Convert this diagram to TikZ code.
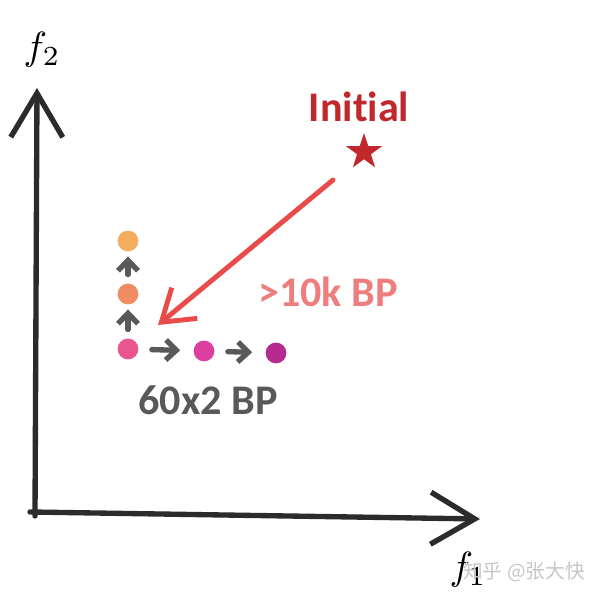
\documentclass[tikz,border=0pt]{standalone}
\usepackage{fontspec}
\newfontfamily\labelfont[Ligatures=NoCommon]{Carlito}
\newfontfamily\cjk{Noto Sans CJK SC}
\usepackage{tikz}
\usetikzlibrary{arrows.meta}
\usetikzlibrary{shapes.geometric}
\usepackage{xcolor}

\definecolor{axisgray}{HTML}{2B2B2B}
\definecolor{stepgray}{HTML}{595959}
\definecolor{initred}{HTML}{C0282B}
\definecolor{bpred}{HTML}{E94B4B}
\definecolor{bpsalmon}{HTML}{EE7D7D}
\definecolor{dotA}{HTML}{F2AE5E}
\definecolor{dotB}{HTML}{F08C62}
\definecolor{dotC}{HTML}{E9558E}
\definecolor{dotD}{HTML}{DC3FA0}
\definecolor{dotE}{HTML}{B52A8E}

\begin{document}
\begin{tikzpicture}[
  axisline/.style={axisgray, line width=3.8pt, line cap=round,
    -{Straight Barb[length=1.1cm, width=1.3cm, line width=3.8pt]}},
  stepline/.style={stepgray, line width=3.8pt, line cap=round,
    -{Straight Barb[length=0.26cm, width=0.5cm, line width=3.8pt]}},
  dot/.style={circle, inner sep=0pt, minimum size=0.52cm},
  bigtext/.style={font=\labelfont\bfseries\fontsize{30}{32}\selectfont}
]
\useasboundingbox (0,0) rectangle (15,14.85);

% axes
\coordinate (ytip) at (0.925,12.65);
\coordinate (xtip) at (12.0,1.875);
\draw[axisline] (0.875,1.95) -- (ytip);
\draw[axisline] (0.75,2.05) -- (xtip);

\node (f2) at (1.05,13.6) [scale=2.8]{$f_2$};
\node (f1) at (11.7,0.6) [scale=2.8]{$f_1$};

% start point
\node[initred, bigtext] (initial) at (8.975,12.175) {Initial};
\node[star, star points=5, star point ratio=2.6, fill=initred,
      inner sep=0pt, minimum size=0.95cm] (start) at (9.1,11.05) {};

% steps
\node[dot, fill=dotA] (d1) at (3.2,8.825) {};
\node[dot, fill=dotB] (d2) at (3.2,7.5) {};
\node[dot, fill=dotC] (d3) at (3.2,6.125) {};
\node[dot, fill=dotD] (d4) at (5.1,6.075) {};
\node[dot, fill=dotE] (d5) at (6.9,6.025) {};

\draw[stepline, shorten <=0.22cm, shorten >=0.12cm] (d3) -- (d2);
\draw[stepline, shorten <=0.22cm, shorten >=0.12cm] (d2) -- (d1);
\draw[stepline, shorten <=0.33cm, shorten >=0.33cm] (d3) -- (d4);
\draw[stepline, shorten <=0.33cm, shorten >=0.33cm] (d4) -- (d5);

% long way
\coordinate (hit) at (3.95,6.725);
\draw[bpred, line width=3.5pt, line cap=round,
      -{Straight Barb[length=0.75cm, width=1.0cm, line width=3.5pt]}]
  (8.325,10.35) -- (hit);

\node[bpsalmon, bigtext] (longcost) at (8.2,7.55) {>10k BP};
\node[stepgray, bigtext] (shortcost) at (5.2,4.85) {60x2 BP};

\node[gray!45, font=\cjk\fontsize{14}{16}\selectfont] (mark) at (13.1,0.55) {知乎 @张大快};

\end{tikzpicture}
\end{document}
